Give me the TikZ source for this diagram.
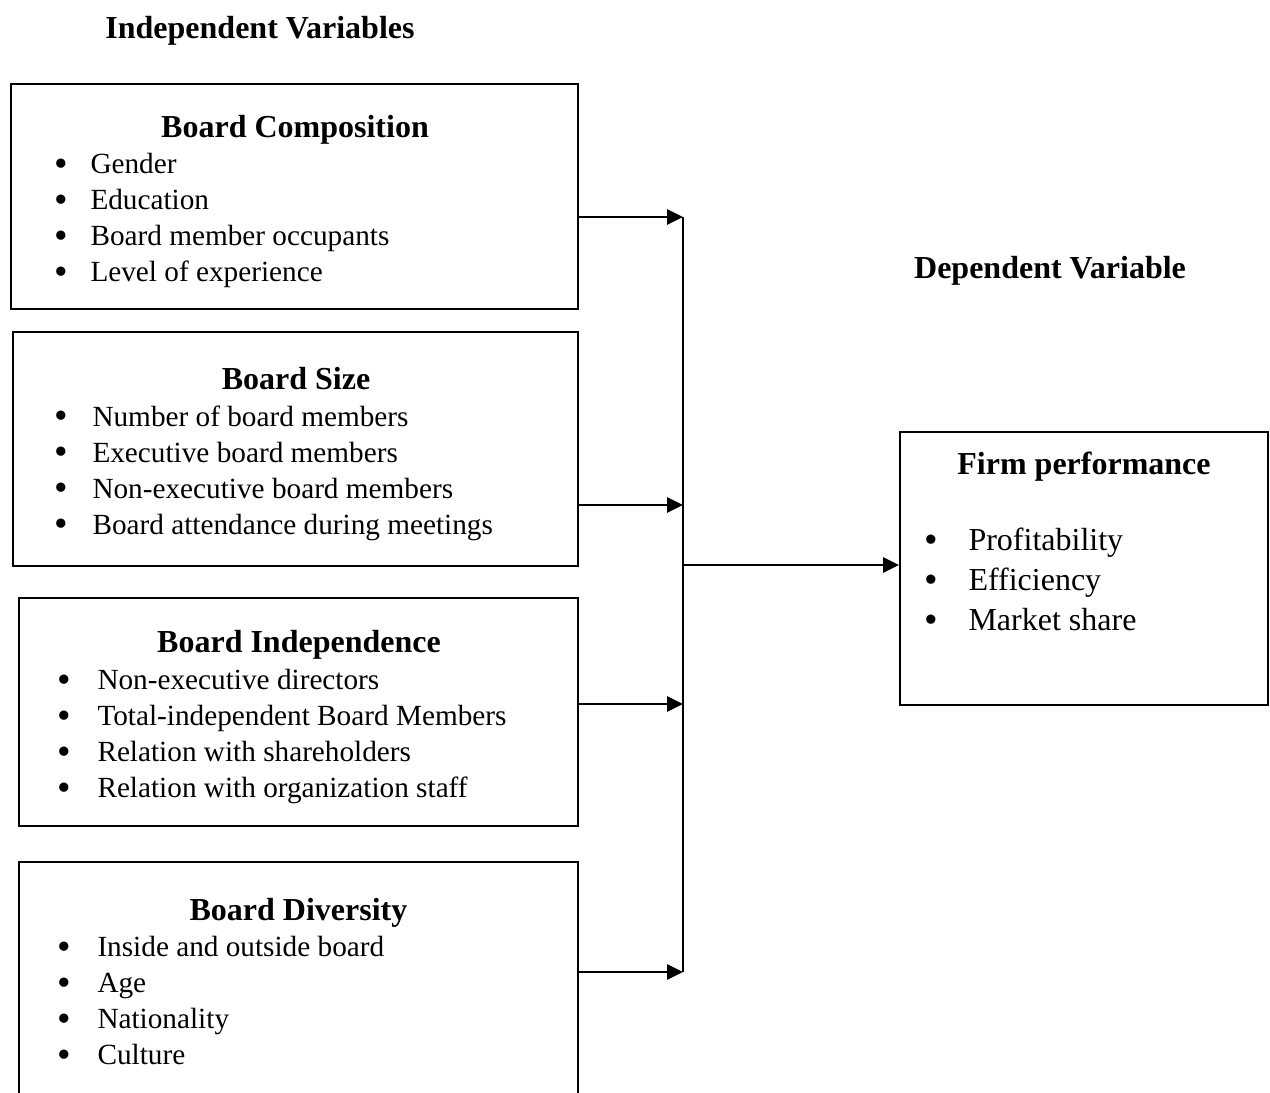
\documentclass[tikz,border=0pt]{standalone}
\usepackage{fontspec}
\setmainfont{Liberation Serif}
\usetikzlibrary{arrows.meta, positioning, fit}

\newcommand{\itm}[2]{\makebox[#1][l]{\raisebox{-1.1pt}{\fontsize{15.5}{0}\selectfont\textbullet}}#2}

\begin{document}
\begin{tikzpicture}[
    x=0.4pt, y=-0.4pt,
    every node/.style={font=\fontsize{11.7}{14.4}\selectfont},
    box/.style={rectangle, draw, line width=0.8pt, inner sep=0pt},
    head/.style={anchor=base, font=\fontsize{12.8}{14.4}\selectfont\bfseries},
    items/.style={anchor=north west, inner sep=0pt, align=left},
    arrow/.style={-{Triangle[length=6.4pt, width=6pt]}, line width=1.1pt}
  ]
  \useasboundingbox (0,0) rectangle (1270,1092);

  % headings
  \node[head] (indep) at (260,39) {Independent Variables};
  \node[head] (dep) at (1050,278) {Dependent Variable};

  % independent variables
  \node[box, fit={(11,84) (578,309)}] (comp) {};
  \node[head] (comptitle) at (295,137) {Board Composition};
  \node[items] (compitems) at (54,153) {\itm{14.4pt}{Gender}\\ \itm{14.4pt}{Education}\\
    \itm{14.4pt}{Board member occupants}\\ \itm{14.4pt}{Level of experience}};

  \node[box, fit={(13,332) (578,566)}] (size) {};
  \node[head] (sizetitle) at (296,389) {Board Size};
  \node[items] (sizeitems) at (54,405) {\itm{15.2pt}{Number of board members}\\
    \itm{15.2pt}{Executive board members}\\ \itm{15.2pt}{Non-executive board members}\\
    \itm{15.2pt}{Board attendance during meetings}};

  \node[box, fit={(19,598) (578,826)}] (indp) {};
  \node[head] (indptitle) at (299,652) {Board Independence};
  \node[items] (indpitems) at (57,669) {\itm{16pt}{Non-executive directors}\\
    \itm{16pt}{Total-independent Board Members}\\ \itm{16pt}{Relation with shareholders}\\
    \itm{16pt}{Relation with organization staff}};

  \node[box, fit={(19,862) (578,1100)}] (div) {};
  \node[head] (divtitle) at (298.5,920) {Board Diversity};
  \node[items] (divitems) at (57,936) {\itm{16pt}{Inside and outside board}\\
    \itm{16pt}{Age}\\ \itm{16pt}{Nationality}\\ \itm{16pt}{Culture}};

  % dependent variable
  \node[box, fit={(900,432) (1268,705)}] (firm) {};
  \node[head] (firmtitle) at (1084,474) {Firm performance};
  \node[items, font=\fontsize{12.8}{16}\selectfont] (firmitems) at (924,527) {\itm{17.6pt}{Profitability}\\
    \itm{17.6pt}{Efficiency}\\ \itm{17.6pt}{Market share}};

  % connectors
  \coordinate (j1) at (683,217);
  \coordinate (j2) at (683,505);
  \coordinate (j3) at (683,704);
  \coordinate (j4) at (683,972);
  \coordinate (hub) at (683,565);

  \draw[line width=1.1pt] (j1) -- (j4);
  \draw[arrow] (comp.east |- j1) -- (j1);
  \draw[arrow] (size.east |- j2) -- (j2);
  \draw[arrow] (indp.east |- j3) -- (j3);
  \draw[arrow] (div.east |- j4) -- (j4);
  \draw[arrow] (hub) -- (hub -| firm.west);

\end{tikzpicture}
\end{document}
